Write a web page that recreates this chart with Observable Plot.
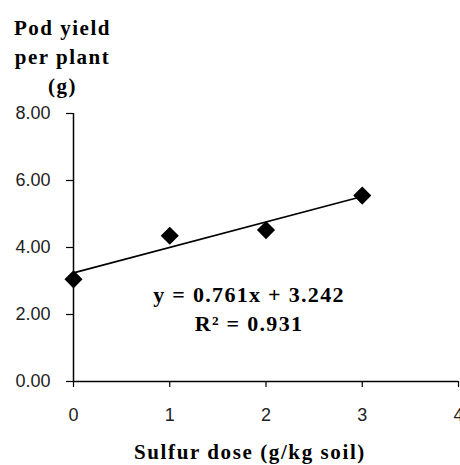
<!DOCTYPE html>
<html>
<head>
<meta charset="utf-8">
<script src="https://cdn.jsdelivr.net/npm/d3@7"></script>
<script src="https://cdn.jsdelivr.net/npm/@observablehq/plot@0.6"></script>
<style>
  html, body { margin: 0; padding: 0; background: #fff; }
  #chart svg { display: block; }
</style>
</head>
<body>
<div id="chart"></div>
<script>
const doses = [0, 1, 2, 3];
const podYield = [3.05, 4.35, 4.52, 5.55];
const xTicks = [0, 1, 2, 3, 4];
const yTicks = [0, 2, 4, 6, 8];
const trendSlope = 0.761;
const trendIntercept = 3.242;
const equationLines = ["y = 0.761x + 3.242", "R² = 0.931"];
const yTitle = "Pod yield\nper plant\n(g)";
const xTitle = "Sulfur dose (g/kg soil)";

const points = doses.map((d, i) => ({x: d, y: podYield[i]}));
const trend = [0, 3].map(x => ({x, y: trendSlope * x + trendIntercept}));

const serif = "'Liberation Serif', 'Times New Roman', serif";
const sans = "'Liberation Sans', Arial, sans-serif";

const chart = Plot.plot({
  width: 460,
  height: 465,
  marginLeft: 73,
  marginRight: 2,
  marginTop: 113,
  marginBottom: 84,
  style: {fontFamily: sans, color: "#000", background: "#fff"},
  x: {domain: [0, 4]},
  y: {domain: [0, 8]},
  marks: [
    Plot.axisY({ticks: yTicks, tickSize: 7, tickPadding: 16, tickFormat: d => d.toFixed(2), fontSize: 18, label: null, stroke: "#000", fill: "#222", strokeWidth: 1.2}),
    Plot.axisX({ticks: xTicks, tickSize: 6, tickPadding: 21, tickFormat: d => String(d), fontSize: 18, label: null, stroke: "#000", fill: "#222", strokeWidth: 1.2}),
    Plot.ruleX([0], {y1: 0, y2: 8, stroke: "#000", strokeWidth: 1.5}),
    Plot.ruleY([0], {x1: 0, x2: 4, stroke: "#000", strokeWidth: 1.5}),
    Plot.line(trend, {x: "x", y: "y", stroke: "#000", strokeWidth: 1.6}),
    Plot.dot(points, {x: "x", y: "y", symbol: "diamond2", r: 7.2, fill: "#000", stroke: "#000"}),
    Plot.text([equationLines.join("\n")], {frameAnchor: "bottom", dx: -17, dy: -74, lineAnchor: "middle", textAnchor: "middle", lineHeight: 1.32, fontFamily: serif, fontWeight: "bold", fontSize: 22, fill: "#000"}),
    Plot.text([yTitle], {frameAnchor: "top-left", dx: -11, dy: -59, lineAnchor: "middle", textAnchor: "middle", lineHeight: 1.38, fontFamily: serif, fontWeight: "bold", fontSize: 21, fill: "#000"}),
    Plot.text([xTitle], {frameAnchor: "bottom", dx: -16, dy: 71, lineAnchor: "middle", textAnchor: "middle", fontFamily: serif, fontWeight: "bold", fontSize: 21, fill: "#000"})
  ]
});
const spacings = ["1.3px", "1.5px", "1.6px"];
d3.select(chart).selectAll('g[aria-label="text"]').each(function(d, i) {
  this.setAttribute("letter-spacing", spacings[i] || "0");
});
document.getElementById("chart").appendChild(chart);
</script>
</body>
</html>
